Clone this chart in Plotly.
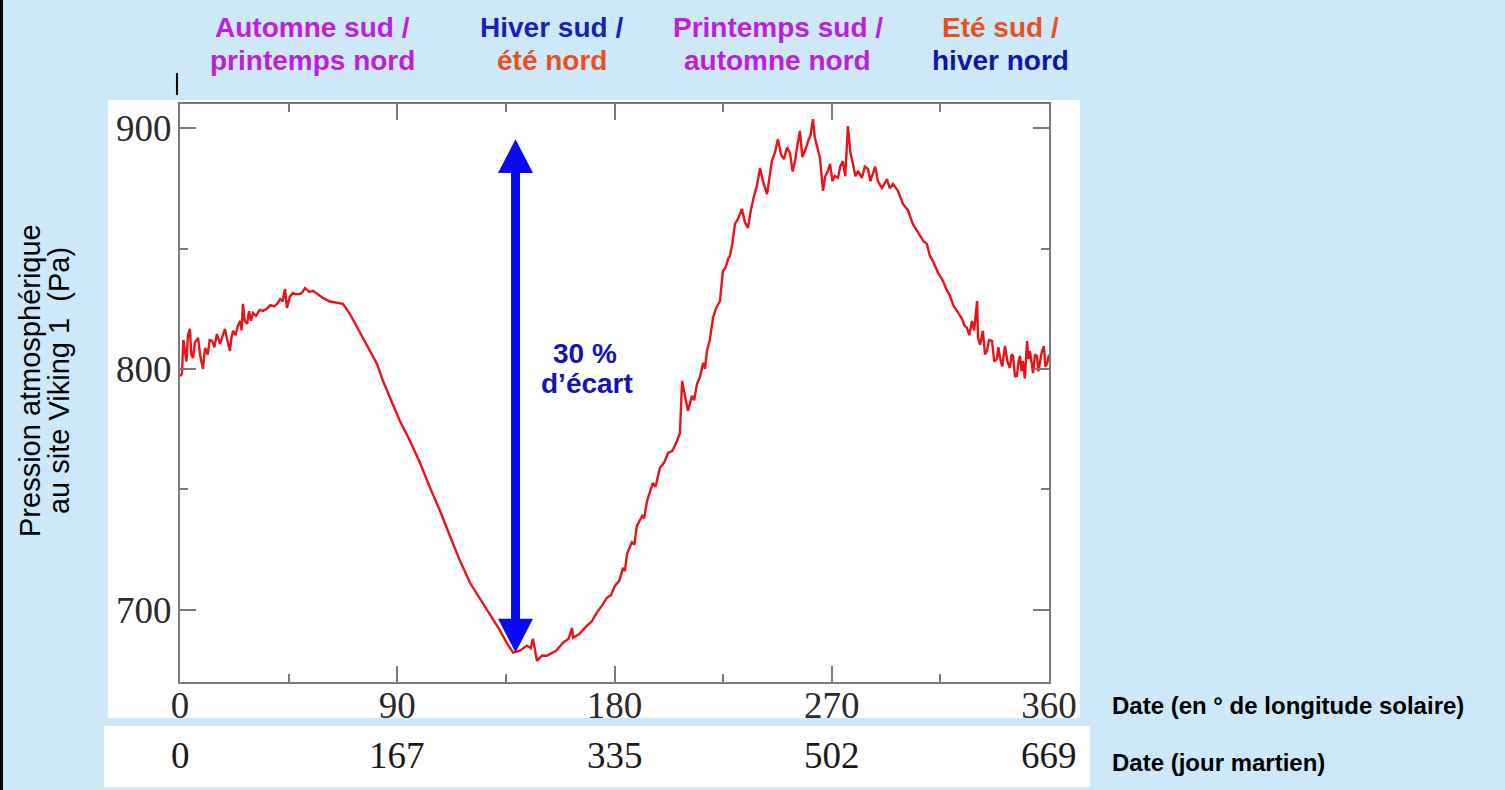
import plotly.graph_objects as go

# ---- data ----
ls_deg = [0.0, 0.8, 1.4, 2.1, 2.7, 3.3, 4.1, 4.7, 5.4, 6.2, 7.5, 8.3, 9.5, 10.4, 11.5, 12.3, 13.3, 14.2,
          15.3, 16.6, 17.5, 18.6, 19.6, 20.7, 21.3, 22.0, 23.0, 24.0, 24.9, 25.5, 26.1, 26.8, 27.8, 28.6,
          29.4, 30.2, 31.5, 33.0, 34.4, 36.0, 37.5, 39.0, 40.2, 41.5, 42.5, 43.5, 44.3, 45.5, 46.8, 48.0,
          49.7, 50.8, 51.8, 53.5, 55.1, 57.0, 59.2, 62.0, 65.0, 67.5, 70.4, 73.0, 75.8, 78.5, 81.6, 84.1,
          87.0, 91.1, 95.3, 99.4, 103.6, 107.7, 111.8, 116.0, 120.1, 125.5, 129.0, 132.6, 135.5, 138.0,
          140.8, 143.7, 145.3, 146.2, 147.9, 150.0, 152.0, 155.8, 158.7, 161.0, 162.4, 162.8, 165.5, 168.6,
          170.5, 172.7, 175.0, 176.9, 178.5, 180.2, 182.0, 183.5, 184.3, 185.2, 187.2, 188.2, 189.3, 191.5,
          192.3, 193.5, 195.9, 197.0, 198.8, 200.5, 202.2, 204.0, 205.9, 207.1, 208.0, 209.2, 210.4, 212.1,
          213.0, 214.2, 215.5, 216.7, 217.5, 218.3, 219.5, 220.8, 222.0, 223.7, 224.9, 226.0, 227.2, 227.8,
          228.8, 229.9, 231.0, 232.8, 234.0, 235.3, 236.5, 237.8, 239.0, 240.3, 241.5, 243.2, 244.2, 245.2,
          246.5, 247.7, 249.0, 250.2, 251.5, 252.7, 253.8, 254.8, 255.8, 256.8, 257.8, 258.9, 260.2, 261.2,
          262.2, 263.0, 263.9, 265.1, 266.4, 267.3, 268.4, 269.3, 270.3, 271.3, 272.6, 273.5, 274.6, 275.6,
          276.7, 277.7, 278.8, 279.8, 280.9, 282.5, 283.7, 285.0, 286.0, 287.1, 288.0, 289.1, 290.8, 292.9,
          294.0, 295.4, 297.4, 299.5, 301.5, 303.6, 305.0, 306.5, 308.0, 309.4, 310.6, 311.9, 314.0, 316.1,
          317.5, 319.0, 320.5, 321.9, 323.0, 324.0, 325.0, 326.0, 327.0, 328.1, 329.0, 330.2, 330.6, 331.5,
          332.6, 333.5, 334.3, 335.2, 336.4, 337.3, 338.4, 339.0, 339.7, 340.6, 341.8, 342.8, 343.8, 344.5,
          345.1, 345.9, 346.7, 347.4, 348.0, 348.6, 349.2, 350.0, 350.9, 351.5, 352.1, 352.8, 353.4, 354.2,
          355.0, 355.6, 356.2, 357.0, 357.9, 358.5, 359.2, 360.0]
pressure_pa = [797.0, 797.9, 812.0, 807.5, 803.0, 814.0, 816.6, 806.0, 804.6, 811.0, 812.9, 806.0, 800.0,
               808.7, 806.0, 812.0, 811.6, 809.0, 814.5, 810.4, 813.0, 816.6, 812.0, 807.5, 813.0, 815.8,
               814.0, 818.0, 819.9, 816.0, 827.0, 820.0, 818.7, 824.0, 820.0, 823.2, 822.0, 824.5, 824.1,
               825.0, 826.5, 826.0, 827.0, 829.0, 828.0, 833.2, 825.3, 830.0, 831.5, 831.0, 831.1, 832.0,
               833.6, 832.0, 832.4, 831.0, 829.5, 828.0, 827.4, 827.0, 822.8, 818.0, 812.9, 808.0, 802.1,
               795.0, 788.0, 778.4, 770.1, 761.0, 750.6, 741.1, 730.7, 720.3, 711.2, 702.5, 697.0, 691.3,
               686.0, 682.2, 683.0, 685.1, 684.0, 688.0, 678.8, 681.0, 680.9, 683.0, 686.3, 688.0, 692.5,
               688.4, 690.0, 693.4, 695.0, 698.8, 702.0, 705.0, 706.0, 710.0, 712.0, 717.4, 716.0, 723.2,
               728.0, 727.0, 734.9, 739.0, 738.0, 745.2, 752.7, 751.0, 758.9, 761.0, 765.1, 766.0, 770.1,
               773.4, 795.0, 788.8, 782.6, 788.8, 787.0, 793.8, 797.0, 802.5, 800.0, 807.5, 812.0, 821.2,
               825.0, 828.2, 840.7, 842.0, 846.0, 846.9, 852.0, 860.2, 862.0, 866.4, 861.0, 858.5, 866.0,
               871.8, 876.0, 883.4, 878.0, 872.6, 880.0, 886.3, 890.0, 895.4, 889.0, 887.1, 892.0, 889.6,
               882.0, 886.3, 893.0, 898.8, 888.0, 890.5, 894.6, 897.0, 903.7, 896.0, 892.5, 887.6, 873.9,
               880.0, 882.2, 885.1, 878.0, 880.1, 879.3, 884.0, 886.3, 880.0, 900.8, 890.0, 885.1, 880.0,
               882.2, 879.3, 884.0, 883.0, 878.0, 881.3, 884.0, 878.0, 875.1, 878.8, 875.0, 876.8, 873.9,
               868.5, 866.0, 860.2, 858.0, 855.2, 853.0, 851.9, 847.0, 844.8, 840.0, 836.5, 833.0, 830.3,
               826.0, 824.1, 822.0, 820.7, 818.0, 817.0, 814.0, 819.9, 816.0, 828.2, 812.9, 810.0, 815.8,
               806.0, 807.5, 812.0, 811.6, 803.0, 804.1, 809.0, 804.6, 801.0, 809.5, 803.0, 800.4, 806.0,
               805.4, 797.0, 797.1, 803.0, 805.4, 799.0, 803.3, 796.0, 811.6, 804.0, 807.5, 801.0, 798.3,
               806.0, 805.4, 799.0, 803.3, 807.0, 809.5, 801.0, 802.1, 806.0]

ls_ticks = [0, 90, 180, 270, 360]
sol_labels = ["0", "167", "335", "502", "669"]
p_ticks = [700, 800, 900]

season_line1 = ["Automne sud /", "Hiver sud /", "Printemps sud /", "Eté sud /"]
season_line2 = ["printemps nord", "été nord", "automne nord", "hiver nord"]
season_ls = [54.7, 154.0, 247.7, 340.0]
season_col1 = ["#bd20dc", "#1c1cb8", "#bd20dc", "#e8501e"]
season_col2 = ["#bd20dc", "#e8501e", "#bd20dc", "#1414a8"]

arrow_ls = 139.0
arrow_top = 895.4
arrow_bottom = 682.2

BG = "#cde9f9"
AX = "#7a7a7a"

fig = go.Figure()
fig.add_trace(go.Scatter(x=ls_deg, y=pressure_pa, mode="lines",
                         line=dict(color="#e8141a", width=2.4), showlegend=False,
                         hoverinfo="skip"))

shapes = []
# white panels
shapes.append(dict(type="rect", xref="paper", yref="paper", x0=-0.0829, x1=1.0357, y0=-0.0623, y1=1.0069,
                   fillcolor="white", line=dict(width=0), layer="below"))
shapes.append(dict(type="rect", xref="paper", yref="paper", x0=-0.0875, x1=1.0472, y0=-0.1817, y1=-0.0761,
                   fillcolor="white", line=dict(width=0), layer="below"))
# black strip at the left edge
shapes.append(dict(type="rect", xref="paper", yref="paper", x0=-0.2075, x1=-0.2037, y0=-0.2, y1=1.2,
                   fillcolor="black", line=dict(width=0), layer="above"))
# small black mark
shapes.append(dict(type="line", xref="paper", yref="paper", x0=-0.0035, x1=-0.0035, y0=1.0156, y1=1.0536,
                   line=dict(color="black", width=2)))
# double arrow
head_w = 7.25
head_h = 14.1
shapes.append(dict(type="line", xref="x", yref="y", x0=arrow_ls, x1=arrow_ls,
                   y0=arrow_bottom + head_h - 1, y1=arrow_top - head_h + 1,
                   line=dict(color="#0a0aee", width=9)))
shapes.append(dict(type="path", xref="x", yref="y",
                   path=f"M {arrow_ls-head_w},{arrow_top-head_h} L {arrow_ls+head_w},{arrow_top-head_h} L {arrow_ls},{arrow_top} Z",
                   fillcolor="#0a0aee", line=dict(width=0)))
shapes.append(dict(type="path", xref="x", yref="y",
                   path=f"M {arrow_ls-head_w},{arrow_bottom+head_h} L {arrow_ls+head_w},{arrow_bottom+head_h} L {arrow_ls},{arrow_bottom} Z",
                   fillcolor="#0a0aee", line=dict(width=0)))

ann = []
for x, t1, t2, c1, c2 in zip(season_ls, season_line1, season_line2, season_col1, season_col2):
    ann.append(dict(x=x, y=1.1315, xref="x", yref="paper", text="<b>" + t1 + "</b>", showarrow=False,
                    font=dict(family="Liberation Sans", size=28, color=c1), xanchor="center", yanchor="middle"))
    ann.append(dict(x=x, y=1.0761, xref="x", yref="paper", text="<b>" + t2 + "</b>", showarrow=False,
                    font=dict(family="Liberation Sans", size=28, color=c2), xanchor="center", yanchor="middle"))
for x, t in zip(ls_ticks, sol_labels):
    ann.append(dict(x=x, y=-0.1263, xref="x", yref="paper", text=t, showarrow=False,
                    font=dict(family="Liberation Serif", size=37, color="#1a1a1a"), xanchor="center", yanchor="middle"))
ann.append(dict(x=1.0702, y=-0.0415, xref="paper", yref="paper", text="<b>Date (en ° de longitude solaire)</b>",
                showarrow=False, font=dict(family="Liberation Sans", size=24, color="black"),
                xanchor="left", yanchor="middle"))
ann.append(dict(x=1.0702, y=-0.1401, xref="paper", yref="paper", text="<b>Date (jour martien)</b>",
                showarrow=False, font=dict(family="Liberation Sans", size=24, color="black"),
                xanchor="left", yanchor="middle"))
ann.append(dict(x=-0.1726, y=0.5208, xref="paper", yref="paper", text="Pression atmosphérique",
                showarrow=False, textangle=-90, font=dict(family="Liberation Sans", size=29, color="black"),
                xanchor="center", yanchor="middle"))
ann.append(dict(x=-0.1392, y=0.5208, xref="paper", yref="paper", text="au site Viking 1  (Pa)",
                showarrow=False, textangle=-90, font=dict(family="Liberation Sans", size=29, color="black"),
                xanchor="center", yanchor="middle"))
ann.append(dict(x=167.8, y=806.6, xref="x", yref="y", text="<b>30 %</b>", showarrow=False,
                font=dict(family="Liberation Sans", size=28, color="#1414b4"), xanchor="center", yanchor="middle"))
ann.append(dict(x=168.6, y=793.8, xref="x", yref="y", text="<b>d’écart</b>", showarrow=False,
                font=dict(family="Liberation Sans", size=28, color="#1414b4"), xanchor="center", yanchor="middle"))

fig.update_layout(
    width=1505, height=790,
    margin=dict(l=180, r=456, t=104, b=108),
    paper_bgcolor=BG, plot_bgcolor="white",
    shapes=shapes, annotations=ann, showlegend=False,
)
fig.update_xaxes(range=[0, 360], tickmode="array", tickvals=ls_ticks, ticktext=[str(v) for v in ls_ticks],
                 showgrid=False, zeroline=False, showline=True, linecolor=AX, linewidth=2, mirror="ticks",
                 ticks="inside", ticklen=16, tickwidth=2, tickcolor=AX,
                 minor=dict(ticks="inside", ticklen=8, tickwidth=2, tickcolor=AX, dtick=45, tick0=0, showgrid=False),
                 tickfont=dict(family="Liberation Serif", size=37, color="#2a2a2a"), ticklabelstandoff=-10)
fig.update_yaxes(range=[670, 910], tickmode="array", tickvals=p_ticks,
                 showgrid=False, zeroline=False, showline=True, linecolor=AX, linewidth=2, mirror="ticks",
                 ticks="inside", ticklen=16, tickwidth=2, tickcolor=AX,
                 minor=dict(ticks="inside", ticklen=8, tickwidth=2, tickcolor=AX, dtick=50, tick0=700, showgrid=False),
                 tickfont=dict(family="Liberation Serif", size=37, color="#2a2a2a"), ticklabelstandoff=-1)

fig.write_html("out.html", config={"displayModeBar": False},
               post_script="document.body.style.margin='0';")
